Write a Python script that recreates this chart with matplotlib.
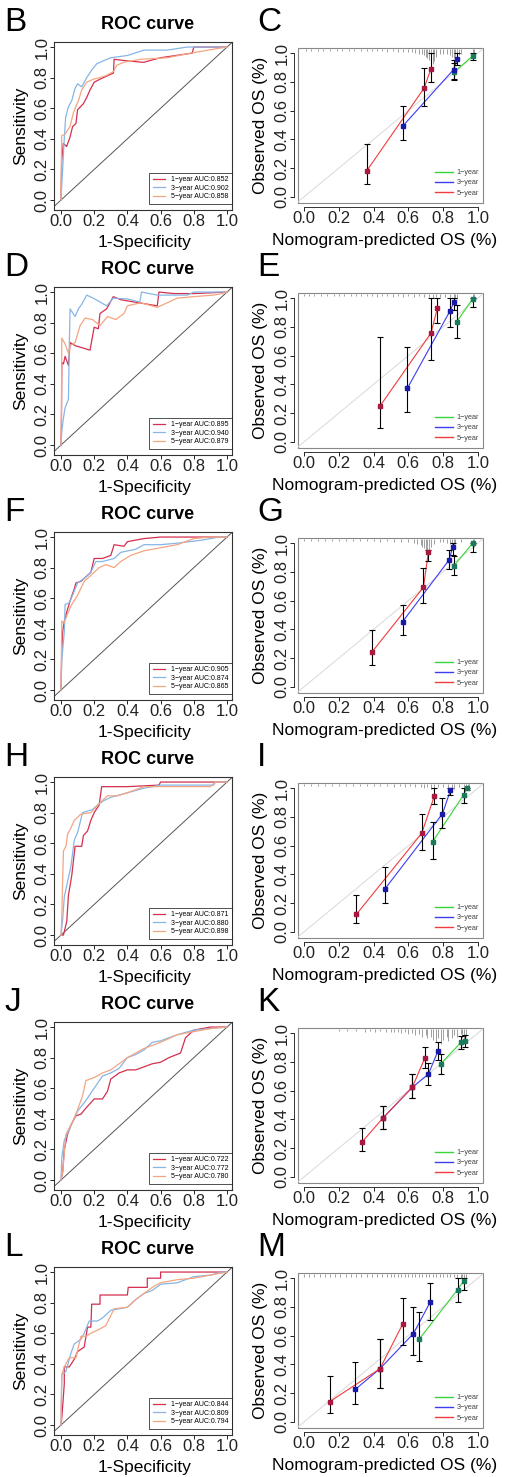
import matplotlib

matplotlib.use("Agg")
import matplotlib.pyplot as plt
from matplotlib.lines import Line2D
from matplotlib.patches import Rectangle

# 字体：Liberation Sans 与 Arial 等宽，找不到字符时退回 DejaVu Sans
plt.rcParams["font.family"] = ["Liberation Sans", "DejaVu Sans"]

# 画布尺寸（像素，dpi=100）
FIG_W, FIG_H = 510, 1477
ROW_OFFSETS = [0, 245, 490, 735, 980, 1225]

YEAR_LABELS = ["1\u2212year", "3\u2212year", "5\u2212year"]
ROC_COLORS = ["#D42F4F", "#86B6E6", "#F4A582"]
CAL_COLORS = ["#36D636", "#3C3CF2", "#F23C3C"]
MARK_COLORS = ["#1B7A5E", "#1A1AA8", "#A8183F"]

ROC_LETTERS = ["B", "D", "F", "H", "J", "L"]
CAL_LETTERS = ["C", "E", "G", "I", "K", "M"]
TICKS = [0.0, 0.2, 0.4, 0.6, 0.8, 1.0]
TICK_LABELS = ["0.0", "0.2", "0.4", "0.6", "0.8", "1.0"]

# ---------------- ROC 曲线数据 ----------------
B_AUC = [0.852, 0.902, 0.858]
B_FPR_1Y = [0, 0.004, 0.014, 0.034, 0.054, 0.07, 0.09, 0.1, 0.135, 0.155, 0.175, 0.2, 0.235, 0.316, 0.32, 0.396, 0.497, 0.598, 0.79, 0.8, 1.0]
B_TPR_1Y = [0, 0.25, 0.37, 0.35, 0.41, 0.48, 0.50, 0.59, 0.63, 0.67, 0.72, 0.77, 0.79, 0.83, 0.92, 0.91, 0.90, 0.93, 0.96, 1.0, 1.0]
B_FPR_3Y = [0, 0.01, 0.018, 0.028, 0.045, 0.065, 0.085, 0.1, 0.125, 0.155, 0.185, 0.215, 0.255, 0.3, 0.4, 0.5, 0.64, 0.76, 1.0]
B_TPR_3Y = [0, 0.2, 0.37, 0.54, 0.61, 0.65, 0.73, 0.76, 0.74, 0.8, 0.85, 0.89, 0.91, 0.93, 0.945, 0.98, 0.98, 1.0, 1.0]
B_FPR_5Y = [0, 0.004, 0.024, 0.054, 0.075, 0.105, 0.125, 0.155, 0.195, 0.235, 0.275, 0.316, 0.336, 0.376, 0.48, 0.64, 0.78, 0.94, 1.0]
B_TPR_5Y = [0, 0.42, 0.43, 0.48, 0.57, 0.65, 0.72, 0.77, 0.79, 0.8, 0.815, 0.84, 0.88, 0.9, 0.92, 0.93, 0.96, 0.99, 1.0]

D_AUC = [0.895, 0.940, 0.879]
D_FPR_1Y = [0, 0.003, 0.005, 0.015, 0.025, 0.045, 0.055, 0.085, 0.115, 0.175, 0.2, 0.225, 0.235, 0.275, 0.315, 0.36, 0.44, 0.58, 0.59, 0.68, 0.8, 1.0]
D_TPR_1Y = [0, 0.17, 0.54, 0.53, 0.58, 0.52, 0.67, 0.65, 0.64, 0.62, 0.77, 0.76, 0.86, 0.89, 0.97, 0.95, 0.935, 0.91, 1.0, 0.99, 0.99, 1.0]
D_FPR_3Y = [0, 0.005, 0.014, 0.024, 0.045, 0.05, 0.055, 0.085, 0.105, 0.125, 0.155, 0.195, 0.275, 0.315, 0.4, 0.475, 0.485, 0.58, 0.76, 0.8, 1.0]
D_TPR_3Y = [0, 0.09, 0.17, 0.24, 0.3, 0.65, 0.89, 0.84, 0.89, 0.92, 0.98, 0.96, 0.91, 0.96, 0.955, 0.935, 1.0, 0.98, 0.98, 1.0, 1.0]
D_FPR_5Y = [0, 0.003, 0.005, 0.025, 0.045, 0.055, 0.085, 0.115, 0.145, 0.19, 0.235, 0.28, 0.33, 0.38, 0.4, 0.48, 0.58, 0.7, 0.8, 0.92, 0.97, 1.0]
D_TPR_5Y = [0, 0.25, 0.7, 0.66, 0.6, 0.65, 0.67, 0.78, 0.83, 0.82, 0.78, 0.84, 0.82, 0.86, 0.91, 0.93, 0.9, 0.96, 0.97, 0.98, 0.99, 1.0]

F_AUC = [0.905, 0.874, 0.865]
F_FPR_1Y = [0, 0.004, 0.01, 0.02, 0.04, 0.06, 0.08, 0.09, 0.12, 0.15, 0.18, 0.2, 0.25, 0.3, 0.32, 0.38, 0.4, 0.45, 0.5, 0.6, 1.0]
F_TPR_1Y = [0, 0.22, 0.38, 0.45, 0.53, 0.6, 0.66, 0.7, 0.71, 0.74, 0.77, 0.86, 0.86, 0.88, 0.95, 0.94, 0.97, 0.98, 0.99, 1.0, 1.0]
F_FPR_3Y = [0, 0.005, 0.02, 0.025, 0.05, 0.07, 0.1, 0.14, 0.18, 0.21, 0.25, 0.32, 0.36, 0.45, 0.5, 0.6, 0.7, 0.85, 0.95, 1.0]
F_TPR_3Y = [0, 0.2, 0.38, 0.56, 0.57, 0.62, 0.7, 0.73, 0.77, 0.84, 0.84, 0.86, 0.9, 0.92, 0.95, 0.95, 0.96, 0.98, 1.0, 1.0]
F_FPR_5Y = [0, 0.005, 0.02, 0.04, 0.06, 0.1, 0.14, 0.18, 0.23, 0.27, 0.32, 0.36, 0.42, 0.5, 0.6, 0.7, 0.8, 0.9, 1.0]
F_TPR_5Y = [0, 0.45, 0.44, 0.5, 0.55, 0.62, 0.71, 0.75, 0.8, 0.82, 0.8, 0.84, 0.88, 0.91, 0.93, 0.95, 0.99, 1.0, 1.0]

H_AUC = [0.871, 0.880, 0.898]
H_FPR_1Y = [0, 0.015, 0.035, 0.045, 0.065, 0.085, 0.125, 0.135, 0.16, 0.18, 0.2, 0.23, 0.245, 0.4, 0.59, 0.6, 0.85, 1.0]
H_TPR_1Y = [0, 0.0, 0.09, 0.26, 0.39, 0.58, 0.58, 0.65, 0.68, 0.75, 0.8, 0.85, 0.97, 0.97, 0.98, 1.0, 1.0, 1.0]
H_FPR_3Y = [0, 0.01, 0.02, 0.04, 0.06, 0.08, 0.1, 0.13, 0.16, 0.19, 0.22, 0.26, 0.3, 0.4, 0.5, 0.6, 0.75, 0.92, 0.93, 1.0]
H_TPR_3Y = [0, 0.1, 0.25, 0.35, 0.45, 0.62, 0.67, 0.8, 0.81, 0.82, 0.85, 0.88, 0.9, 0.93, 0.96, 0.98, 0.98, 0.98, 1.0, 1.0]
H_FPR_5Y = [0, 0.005, 0.01, 0.015, 0.03, 0.04, 0.06, 0.08, 0.1, 0.12, 0.18, 0.23, 0.28, 0.34, 0.4, 0.5, 0.6, 0.8, 0.9, 0.93, 1.0]
H_TPR_5Y = [0, 0.12, 0.36, 0.55, 0.58, 0.66, 0.7, 0.75, 0.77, 0.79, 0.8, 0.86, 0.91, 0.91, 0.93, 0.97, 0.97, 0.97, 0.97, 1.0, 1.0]

J_AUC = [0.722, 0.772, 0.780]
J_FPR_1Y = [0, 0.01, 0.02, 0.04, 0.06, 0.09, 0.12, 0.15, 0.2, 0.25, 0.28, 0.3, 0.35, 0.4, 0.45, 0.5, 0.55, 0.6, 0.65, 0.72, 0.75, 0.8, 0.9, 1.0]
J_TPR_1Y = [0, 0.05, 0.2, 0.3, 0.36, 0.42, 0.43, 0.47, 0.53, 0.53, 0.58, 0.66, 0.7, 0.72, 0.72, 0.74, 0.76, 0.77, 0.8, 0.83, 0.93, 0.98, 1.0, 1.0]
J_FPR_3Y = [0, 0.005, 0.02, 0.05, 0.1, 0.15, 0.2, 0.25, 0.3, 0.35, 0.4, 0.45, 0.5, 0.55, 0.6, 0.7, 0.8, 0.9, 1.0]
J_TPR_3Y = [0, 0.15, 0.26, 0.33, 0.45, 0.52, 0.6, 0.68, 0.7, 0.73, 0.8, 0.82, 0.85, 0.9, 0.91, 0.95, 0.98, 0.99, 1.0]
J_FPR_5Y = [0, 0.01, 0.03, 0.07, 0.1, 0.13, 0.15, 0.2, 0.25, 0.3, 0.35, 0.4, 0.45, 0.5, 0.55, 0.6, 0.7, 0.8, 0.9, 1.0]
J_TPR_5Y = [0, 0.05, 0.3, 0.38, 0.46, 0.55, 0.65, 0.67, 0.7, 0.72, 0.76, 0.8, 0.83, 0.86, 0.88, 0.9, 0.95, 0.97, 0.99, 1.0]

L_AUC = [0.844, 0.809, 0.794]
L_FPR_1Y = [0, 0.005, 0.01, 0.02, 0.02, 0.05, 0.08, 0.1, 0.14, 0.16, 0.18, 0.185, 0.235, 0.235, 0.4, 0.405, 0.52, 0.52, 0.6, 0.6, 0.92, 1.0]
L_TPR_1Y = [0, 0.05, 0.12, 0.27, 0.38, 0.38, 0.43, 0.48, 0.51, 0.64, 0.64, 0.79, 0.79, 0.85, 0.85, 0.9, 0.9, 0.96, 0.96, 1.0, 1.0, 1.0]
L_FPR_3Y = [0, 0.005, 0.03, 0.06, 0.08, 0.12, 0.14, 0.17, 0.22, 0.25, 0.3, 0.4, 0.45, 0.5, 0.55, 0.6, 0.7, 0.8, 0.9, 0.97, 1.0]
L_TPR_3Y = [0, 0.33, 0.35, 0.47, 0.53, 0.56, 0.6, 0.68, 0.68, 0.7, 0.75, 0.77, 0.82, 0.86, 0.88, 0.92, 0.93, 0.97, 0.98, 1.0, 1.0]
L_FPR_5Y = [0, 0.005, 0.02, 0.05, 0.09, 0.12, 0.15, 0.18, 0.22, 0.27, 0.32, 0.4, 0.45, 0.5, 0.55, 0.6, 0.7, 0.8, 0.9, 1.0]
L_TPR_5Y = [0, 0.33, 0.38, 0.44, 0.44, 0.58, 0.58, 0.6, 0.62, 0.65, 0.76, 0.77, 0.82, 0.86, 0.9, 0.93, 0.95, 0.96, 0.98, 1.0]

# ---------------- 校准曲线数据：预测值、观测值、置信区间、年份 ----------------
C_PRED = [0.36, 0.69, 0.73, 0.57, 0.86, 0.88, 0.865, 0.97]
C_OBS = [0.18, 0.755, 0.89, 0.495, 0.885, 0.96, 0.87, 0.98]
C_LOW = [0.09, 0.635, 0.80, 0.395, 0.81, 0.92, 0.82, 0.95]
C_HIGH = [0.37, 0.895, 1.0, 0.63, 0.95, 1.0, 0.93, 1.0]
C_YEAR = [5, 5, 5, 3, 3, 3, 1, 1]

E_PRED = [0.437, 0.73, 0.767, 0.594, 0.838, 0.862, 0.877, 0.97]
E_OBS = [0.249, 0.756, 0.93, 0.372, 0.907, 0.97, 0.833, 0.995]
E_LOW = [0.098, 0.57, 0.826, 0.21, 0.80, 0.92, 0.72, 0.94]
E_HIGH = [0.726, 1.0, 1.0, 0.658, 1.0, 1.0, 0.95, 1.0]
E_YEAR = [5, 5, 5, 3, 3, 3, 1, 1]

G_PRED = [0.392, 0.687, 0.715, 0.567, 0.835, 0.854, 0.862, 0.97]
G_OBS = [0.244, 0.693, 0.937, 0.453, 0.884, 0.97, 0.842, 1.0]
G_LOW = [0.15, 0.58, 0.877, 0.36, 0.82, 0.92, 0.78, 0.94]
G_HIGH = [0.395, 0.826, 0.953, 0.57, 0.953, 1.0, 0.907, 1.0]
G_YEAR = [5, 5, 5, 3, 3, 3, 1, 1]

I_PRED = [0.302, 0.677, 0.75, 0.465, 0.796, 0.842, 0.74, 0.917, 0.935]
I_OBS = [0.123, 0.686, 0.947, 0.298, 0.821, 0.984, 0.628, 0.951, 1.0]
I_LOW = [0.063, 0.57, 0.89, 0.2, 0.72, 0.953, 0.51, 0.895, 0.985]
I_HIGH = [0.256, 0.82, 1.0, 0.449, 0.93, 1.0, 0.767, 1.0, 1.0]
I_YEAR = [5, 5, 5, 3, 3, 3, 1, 1, 1]

K_PRED = [0.335, 0.452, 0.623, 0.696, 0.452, 0.623, 0.715, 0.771, 0.785, 0.904, 0.923]
K_OBS = [0.244, 0.407, 0.623, 0.83, 0.407, 0.623, 0.714, 0.877, 0.784, 0.937, 0.947]
K_LOW = [0.18, 0.33, 0.547, 0.76, 0.33, 0.547, 0.64, 0.814, 0.714, 0.89, 0.9]
K_HIGH = [0.337, 0.495, 0.714, 0.9, 0.495, 0.714, 0.795, 0.937, 0.856, 0.98, 0.985]
K_YEAR = [5, 5, 5, 5, 3, 3, 3, 3, 1, 1, 1]

M_PRED = [0.148, 0.437, 0.567, 0.296, 0.437, 0.629, 0.725, 0.662, 0.883, 0.917]
M_OBS = [0.141, 0.37, 0.679, 0.227, 0.37, 0.614, 0.831, 0.574, 0.92, 0.977]
M_LOW = [0.063, 0.234, 0.534, 0.122, 0.234, 0.468, 0.71, 0.426, 0.836, 0.92]
M_HIGH = [0.32, 0.574, 0.86, 0.42, 0.574, 0.796, 0.967, 0.766, 1.0, 1.0]
M_YEAR = [5, 5, 5, 3, 3, 3, 3, 1, 1, 1]

# 顶部 rug（预测值分布）：(位置, 长度)
C_RUG = [(0.01, 0.01), (0.04, 0.01), (0.08, 0.01), (0.11, 0.01), (0.15, 0.012), (0.19, 0.01), (0.22, 0.01),
         (0.26, 0.012), (0.29, 0.01), (0.33, 0.01), (0.36, 0.012), (0.39, 0.01), (0.42, 0.012), (0.45, 0.01),
         (0.48, 0.015), (0.51, 0.012), (0.54, 0.015), (0.57, 0.015), (0.6, 0.02), (0.62, 0.02), (0.64, 0.025),
         (0.66, 0.03), (0.68, 0.035), (0.69, 0.04), (0.7, 0.05), (0.71, 0.06), (0.72, 0.07), (0.73, 0.09),
         (0.74, 0.1), (0.75, 0.08), (0.76, 0.05), (0.78, 0.03), (0.8, 0.03), (0.82, 0.035), (0.84, 0.04),
         (0.85, 0.05), (0.86, 0.06), (0.87, 0.05), (0.88, 0.06), (0.89, 0.04), (0.9, 0.03), (0.97, 0.05), (0.98, 0.06)]
E_RUG = [(0.0, 0.012), (0.03, 0.01), (0.06, 0.012), (0.1, 0.01), (0.13, 0.012), (0.17, 0.01), (0.2, 0.012),
         (0.23, 0.01), (0.27, 0.012), (0.3, 0.01), (0.33, 0.012), (0.36, 0.01), (0.39, 0.012), (0.42, 0.015),
         (0.45, 0.01), (0.48, 0.012), (0.51, 0.015), (0.54, 0.012), (0.57, 0.015), (0.6, 0.012), (0.63, 0.015),
         (0.66, 0.012), (0.69, 0.015), (0.72, 0.02), (0.74, 0.025), (0.76, 0.02), (0.78, 0.02), (0.81, 0.015),
         (0.84, 0.02), (0.86, 0.03), (0.87, 0.03), (0.88, 0.03), (0.97, 0.035), (0.98, 0.04)]
G_RUG = [(0.0, 0.01), (0.04, 0.01), (0.08, 0.01), (0.12, 0.012), (0.16, 0.01), (0.2, 0.01), (0.24, 0.012),
         (0.28, 0.01), (0.32, 0.012), (0.36, 0.01), (0.4, 0.012), (0.44, 0.015), (0.48, 0.012), (0.52, 0.015),
         (0.56, 0.02), (0.6, 0.02), (0.63, 0.025), (0.65, 0.03), (0.67, 0.04), (0.68, 0.05), (0.69, 0.06),
         (0.7, 0.08), (0.71, 0.09), (0.72, 0.07), (0.73, 0.05), (0.75, 0.03), (0.78, 0.02), (0.8, 0.02),
         (0.82, 0.025), (0.84, 0.03), (0.85, 0.04), (0.86, 0.05), (0.87, 0.03), (0.9, 0.02), (0.97, 0.04), (0.98, 0.05)]
I_RUG = [(0.0, 0.012), (0.04, 0.01), (0.08, 0.012), (0.12, 0.01), (0.16, 0.012), (0.2, 0.01), (0.24, 0.012),
         (0.28, 0.012), (0.32, 0.01), (0.36, 0.012), (0.4, 0.012), (0.44, 0.01), (0.48, 0.012), (0.52, 0.015),
         (0.55, 0.012), (0.58, 0.015), (0.61, 0.012), (0.64, 0.015), (0.67, 0.02), (0.69, 0.025), (0.71, 0.02),
         (0.73, 0.03), (0.75, 0.025), (0.77, 0.02), (0.8, 0.02), (0.83, 0.025), (0.85, 0.03), (0.86, 0.03),
         (0.89, 0.02), (0.92, 0.03), (0.93, 0.035), (0.94, 0.04), (0.95, 0.035)]
K_RUG = [(0.2, 0.01), (0.25, 0.01), (0.3, 0.012), (0.35, 0.015), (0.38, 0.01), (0.41, 0.015), (0.44, 0.012),
         (0.47, 0.02), (0.5, 0.015), (0.52, 0.02), (0.54, 0.015), (0.56, 0.025), (0.58, 0.02), (0.6, 0.03),
         (0.62, 0.025), (0.64, 0.04), (0.66, 0.03), (0.68, 0.05), (0.7, 0.04), (0.71, 0.06), (0.73, 0.05),
         (0.74, 0.07), (0.76, 0.09), (0.77, 0.06), (0.79, 0.1), (0.8, 0.07), (0.82, 0.05), (0.83, 0.08),
         (0.85, 0.06), (0.86, 0.04), (0.88, 0.05), (0.9, 0.03), (0.91, 0.06), (0.92, 0.07), (0.93, 0.05)]
M_RUG = [(0.0, 0.02), (0.03, 0.015), (0.06, 0.02), (0.09, 0.015), (0.12, 0.02), (0.15, 0.015), (0.18, 0.02),
         (0.21, 0.015), (0.24, 0.02), (0.27, 0.015), (0.3, 0.02), (0.33, 0.015), (0.36, 0.02), (0.39, 0.015),
         (0.42, 0.02), (0.45, 0.02), (0.48, 0.015), (0.5, 0.02), (0.52, 0.02), (0.54, 0.015), (0.56, 0.02),
         (0.58, 0.02), (0.6, 0.02), (0.62, 0.015), (0.64, 0.02), (0.66, 0.02), (0.68, 0.02), (0.7, 0.02),
         (0.72, 0.015), (0.74, 0.02), (0.76, 0.02), (0.78, 0.02), (0.8, 0.02), (0.82, 0.02), (0.84, 0.02),
         (0.86, 0.02), (0.88, 0.025), (0.9, 0.025), (0.91, 0.025), (0.92, 0.03), (0.93, 0.03)]


def px_axes(fig, left, top, right, bottom):
    """按像素坐标（左上角为原点）添加坐标轴。"""
    return fig.add_axes([left / FIG_W, 1 - bottom / FIG_H, (right - left) / FIG_W, (bottom - top) / FIG_H])


def style_ticks(ax):
    """R 风格刻度：朝外，y 轴刻度文字竖排。"""
    ax.set_xticks(TICKS)
    ax.set_xticklabels(TICK_LABELS)
    ax.set_yticks(TICKS)
    ax.set_yticklabels(TICK_LABELS)
    ax.tick_params(direction="out", length=3, width=0.7, pad=0, labelsize=12, colors="#222222")
    for label in ax.get_yticklabels():
        label.set_rotation(90)
        label.set_va("center")


def draw_roc(fig, off, curves, aucs):
    ax = px_axes(fig, 54, 42 + off, 232, 210 + off)
    ax.set_xlim(-0.042, 1.03)
    ax.set_ylim(-0.065, 1.033)
    ax.axline((0, 0), (1, 1), color="#555555", lw=0.7)

    for (fpr, tpr), color, year, auc in zip(curves, ROC_COLORS, YEAR_LABELS, aucs):
        ax.plot(fpr, tpr, color=color, lw=0.9, label=f"{year} AUC:{auc:.3f}")

    style_ticks(ax)
    for spine in ax.spines.values():
        spine.set_linewidth(0.8)
        spine.set_color("#333333")

    ax.set_xlabel("1-Specificity", fontsize=12.5, va="center")
    ax.xaxis.set_label_coords(0.51, -0.196)
    ax.set_ylabel("Sensitivity", fontsize=12.5, va="center")
    ax.yaxis.set_label_coords(-0.188, 0.5)

    legend = ax.legend(
        loc="lower right",
        bbox_to_anchor=(1.0, 0.036),
        borderaxespad=0,
        fontsize=5,
        fancybox=False,
        edgecolor="black",
        handlelength=1.8,
        handletextpad=0.8,
        labelspacing=0.25,
        borderpad=0.5,
    )
    legend.get_frame().set_linewidth(0.6)

    fig.text(148 / FIG_W, 1 - (off + 29) / FIG_H, "ROC curve", fontsize=13, fontweight="bold",
             ha="center", va="baseline")


def draw_calibration(fig, off, pred, obs, low, high, year, rug):
    ax = px_axes(fig, 298, 48 + off, 483, 203 + off)
    ax.set_xlim(-0.034, 1.029)
    ax.set_ylim(-0.042, 1.035)
    ax.axline((0, 0), (1, 1), color="#D9D9D9", lw=0.7)

    # 顶部 rug
    rug_x = [x for x, _ in rug]
    rug_bottom = [1.025 - h for _, h in rug]
    ax.vlines(rug_x, rug_bottom, 1.025, color="#777777", lw=0.5)

    # 各年份连线、误差线和方块点
    for idx, yr in enumerate([1, 3, 5]):
        pts = sorted((p, o) for p, o, y in zip(pred, obs, year) if y == yr)
        ax.plot([p[0] for p in pts], [p[1] for p in pts], color=CAL_COLORS[idx], lw=0.8)
    ax.errorbar(pred, obs, yerr=[[o - lo for o, lo in zip(obs, low)], [hi - o for o, hi in zip(obs, high)]],
                fmt="none", ecolor="black", elinewidth=0.8, capsize=2, capthick=0.8)
    for idx, yr in enumerate([1, 3, 5]):
        xs = [p for p, y in zip(pred, year) if y == yr]
        ys = [o for o, y in zip(obs, year) if y == yr]
        ax.plot(xs, ys, "s", ms=3, color=MARK_COLORS[idx])

    # 边框（灰色）+ 偏移的坐标轴
    ax.add_patch(Rectangle((0, 0), 1, 1, transform=ax.transAxes, fill=False,
                           edgecolor="#888888", lw=0.8, clip_on=False))
    ax.spines["top"].set_visible(False)
    ax.spines["right"].set_visible(False)
    for side in ["left", "bottom"]:
        ax.spines[side].set_position(("outward", 3))
        ax.spines[side].set_bounds(0, 1)
        ax.spines[side].set_linewidth(0.7)
        ax.spines[side].set_color("#333333")
    style_ticks(ax)

    ax.set_xlabel("Nomogram-predicted OS (%)", fontsize=12.5, va="center")
    ax.xaxis.set_label_coords(0.468, -0.24)
    ax.set_ylabel("Observed OS (%)", fontsize=12.5, va="center")
    ax.yaxis.set_label_coords(-0.2, 0.5)

    handles = [Line2D([], [], color=c, lw=1) for c in CAL_COLORS]
    leg = ax.legend(handles, YEAR_LABELS, loc="lower right", bbox_to_anchor=(0.978, 0.04),
                    borderaxespad=0, borderpad=0, frameon=False, fontsize=5.2,
                    handlelength=2.4, handletextpad=0.5, labelspacing=0.45)
    for text in leg.get_texts():
        text.set_color("#444444")


def main():
    fig = plt.figure(figsize=(FIG_W / 100, FIG_H / 100), dpi=100)

    roc_panels = [
        ([(B_FPR_1Y, B_TPR_1Y), (B_FPR_3Y, B_TPR_3Y), (B_FPR_5Y, B_TPR_5Y)], B_AUC),
        ([(D_FPR_1Y, D_TPR_1Y), (D_FPR_3Y, D_TPR_3Y), (D_FPR_5Y, D_TPR_5Y)], D_AUC),
        ([(F_FPR_1Y, F_TPR_1Y), (F_FPR_3Y, F_TPR_3Y), (F_FPR_5Y, F_TPR_5Y)], F_AUC),
        ([(H_FPR_1Y, H_TPR_1Y), (H_FPR_3Y, H_TPR_3Y), (H_FPR_5Y, H_TPR_5Y)], H_AUC),
        ([(J_FPR_1Y, J_TPR_1Y), (J_FPR_3Y, J_TPR_3Y), (J_FPR_5Y, J_TPR_5Y)], J_AUC),
        ([(L_FPR_1Y, L_TPR_1Y), (L_FPR_3Y, L_TPR_3Y), (L_FPR_5Y, L_TPR_5Y)], L_AUC),
    ]
    cal_panels = [
        (C_PRED, C_OBS, C_LOW, C_HIGH, C_YEAR, C_RUG),
        (E_PRED, E_OBS, E_LOW, E_HIGH, E_YEAR, E_RUG),
        (G_PRED, G_OBS, G_LOW, G_HIGH, G_YEAR, G_RUG),
        (I_PRED, I_OBS, I_LOW, I_HIGH, I_YEAR, I_RUG),
        (K_PRED, K_OBS, K_LOW, K_HIGH, K_YEAR, K_RUG),
        (M_PRED, M_OBS, M_LOW, M_HIGH, M_YEAR, M_RUG),
    ]

    for row, off in enumerate(ROW_OFFSETS):
        curves, aucs = roc_panels[row]
        draw_roc(fig, off, curves, aucs)
        draw_calibration(fig, off, *cal_panels[row])

        # 面板字母
        fig.text(4 / FIG_W, 1 - (off + 31) / FIG_H, ROC_LETTERS[row], fontsize=24, va="baseline")
        fig.text(257 / FIG_W, 1 - (off + 31) / FIG_H, CAL_LETTERS[row], fontsize=24, va="baseline")

    fig.savefig("out.png", dpi=100)
    plt.close(fig)


if __name__ == "__main__":
    main()
